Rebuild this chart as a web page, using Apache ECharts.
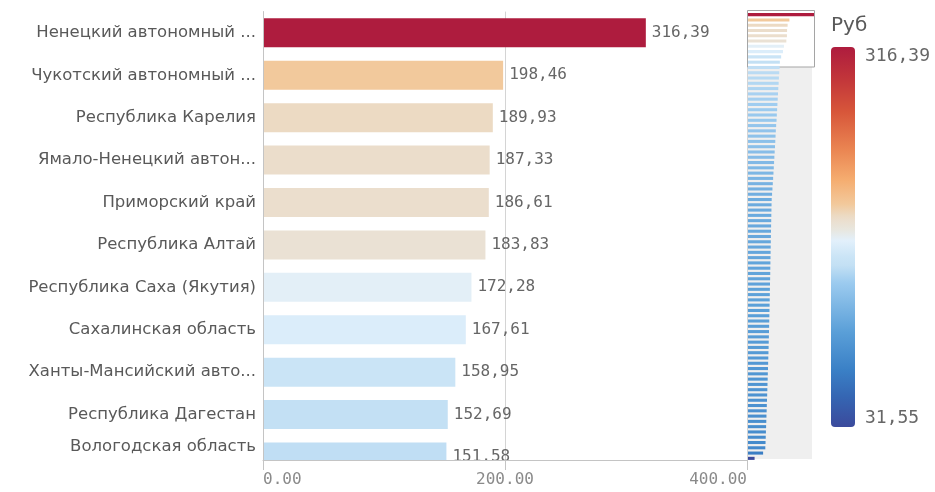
<!DOCTYPE html>
<html><head><meta charset="utf-8">
<script src="https://cdn.jsdelivr.net/npm/echarts@6/dist/echarts.min.js"></script>
<style>html,body{margin:0;padding:0;background:#fff}#c{width:935px;height:492px}</style>
</head><body><div id="c"></div>
<script>
// ---- data ----
const categories = [
  'Ненецкий автономный ...',
  'Чукотский автономный ...',
  'Республика Карелия',
  'Ямало-Ненецкий автон...',
  'Приморский край',
  'Республика Алтай',
  'Республика Саха (Якутия)',
  'Сахалинская область',
  'Ханты-Мансийский авто...',
  'Республика Дагестан',
  'Вологодская область'
];
// all regions, sorted (first 11 labelled above; the rest read from the mini-map)
const values = [
  316.39, 198.46, 189.93, 187.33, 186.61, 183.83, 172.28, 167.61, 158.95, 152.69, 151.58,
  149.8, 148.2, 146.9, 145.3, 143.7, 142.5, 141.1, 139.6, 138.2, 136.9, 135.0, 133.4,
  132.1, 130.8, 129.5, 127.9, 126.4, 125.0, 123.6, 122.1, 120.5, 118.9, 117.2, 115.4, 113.6,
  112.9, 112.4, 111.8, 111.3, 110.7, 110.2, 109.8, 109.3, 108.9, 108.4, 107.9, 107.5, 107.0,
  106.6, 106.1, 105.5, 105.0, 104.6, 104.1, 103.5, 103.0, 102.4, 101.9, 101.3, 100.7, 100.1,
  99.4, 98.8, 98.1, 97.3, 96.6, 95.8, 95.0, 94.3, 93.5, 92.7, 91.9, 91.1,
  90.2, 89.4, 88.5, 87.7, 86.8, 85.9, 85.0, 84.1, 83.0,
  72.4,
  31.55
];
const xTicks = [0, 200, 400];
const legendTitle = 'Руб';
// colour scale stops: [fraction of range, colour]
const colorStops = [
  [0.00, '#3b4a9c'], [0.08, '#3566b3'], [0.15, '#3a80c6'], [0.25, '#5a9fd8'],
  [0.38, '#9ccbef'], [0.425, '#c3e0f4'], [0.447, '#cae4f6'], [0.49, '#e2f0fb'],
  [0.52, '#e8e6de'], [0.545, '#ebdecd'], [0.556, '#ecdac3'], [0.586, '#f2c99c'],
  [0.65, '#f5ad70'], [0.73, '#ea8552'], [0.83, '#d7563a'], [0.92, '#c1343a'], [1.00, '#ae1c3e']
];

// ---- helpers ----
const vMin = Math.min(...values), vMax = Math.max(...values);
function hex2rgb(h){return [1,3,5].map(i=>parseInt(h.substr(i,2),16));}
function colorFor(v){
  const t = (v - vMin) / (vMax - vMin);
  for (let k = 1; k < colorStops.length; k++) {
    if (t <= colorStops[k][0]) {
      const [t0,c0] = colorStops[k-1], [t1,c1] = colorStops[k];
      const f = (t - t0) / (t1 - t0);
      const a = hex2rgb(c0), b = hex2rgb(c1);
      return 'rgb(' + a.map((x,j)=>Math.round(x + (b[j]-x)*f)).join(',') + ')';
    }
  }
  return colorStops[colorStops.length-1][1];
}
const fmt = v => v.toFixed(2).replace('.', ',');

const yMin = -0.5, yMax = 10.07;
const labelPos = categories.map((_, i) => Math.min(i, yMax - 0.31));
const mainData = categories.map((c, i) => [i, values[i]]);
const xMin = xTicks[0], xMax = xTicks[xTicks.length-1], xInt = xTicks[1] - xTicks[0];

const chart = echarts.init(document.getElementById('c'), null, {renderer: 'canvas'});
chart.setOption({
  animation: false,
  grid: [
    {left: 263, top: 11.6, width: 484, height: 448.4},
    {left: 748, top: 12, width: 66, height: 449}
  ],
  xAxis: [
    { // grid lines (behind bars)
      gridIndex: 0, type: 'value', min: xMin, max: xMax, interval: xInt, position: 'bottom',
      axisLine: {show: false}, axisTick: {show: false}, axisLabel: {show: false},
      splitLine: {show: true, lineStyle: {color: '#d4d4d4'}}
    },
    {gridIndex: 1, type: 'value', min: 0, max: vMax, show: false},
    { // axis line, ticks and labels (on top)
      gridIndex: 0, type: 'value', min: xMin, max: xMax, interval: xInt, position: 'bottom', z: 10,
      axisLine: {show: true, onZero: false, lineStyle: {color: '#c4c4c4'}},
      axisTick: {show: true, length: 10, lineStyle: {color: '#c4c4c4'}},
      splitLine: {show: false},
      axisLabel: {
        formatter: v => v.toFixed(2), fontFamily: 'DejaVu Sans Mono', fontSize: 16, color: '#8a8a8a',
        margin: 12, alignMinLabel: 'left', alignMaxLabel: 'right'
      }
    }
  ],
  yAxis: [
    {
      gridIndex: 0, type: 'value', min: yMin, max: yMax, inverse: true,
      axisLine: {show: true, lineStyle: {color: '#c4c4c4'}},
      axisTick: {show: false}, splitLine: {show: false},
      axisLabel: {
        customValues: labelPos,
        formatter: v => categories[Math.round(v)] || '',
        fontFamily: 'DejaVu Sans', fontSize: 16.5, color: '#595959', margin: 7
      }
    },
    {gridIndex: 1, type: 'category', inverse: true, data: values.map((_, i) => i), show: false}
  ],
  graphic: [
    {type: 'rect', z: 1, shape: {x: 748, y: 10, width: 64, height: 449}, style: {fill: '#efefef'}},
    {type: 'rect', z: 1, shape: {x: 747.5, y: 10.5, width: 67, height: 56.5}, style: {fill: '#fff', stroke: '#a5a5a5', lineWidth: 1}},
    {type: 'rect', z: 5, shape: {x: 263.5, y: 460.5, width: 483, height: 14}, style: {fill: '#fff'}},
    {type: 'rect', z: 5, shape: {x: 831, y: 47, width: 24, height: 380, r: 4},
      style: {fill: new echarts.graphic.LinearGradient(0, 0, 0, 1,
        colorStops.slice().reverse().map(s => ({offset: 1 - s[0], color: s[1]})))}},
    {type: 'text', z: 5, x: 831, y: 26, style: {text: legendTitle, font: '20px "DejaVu Sans"', fill: '#595959', verticalAlign: 'middle'}},
    {type: 'text', z: 5, x: 865, y: 56, style: {text: fmt(vMax), font: '18px "DejaVu Sans Mono"', fill: '#666', verticalAlign: 'middle'}},
    {type: 'text', z: 5, x: 865, y: 418, style: {text: fmt(vMin), font: '18px "DejaVu Sans Mono"', fill: '#666', verticalAlign: 'middle'}}
  ],
  series: [
    {
      type: 'custom', xAxisIndex: 0, yAxisIndex: 0, clip: true,
      encode: {x: 1, y: 0},
      data: mainData,
      renderItem: function (params, api) {
        const i = api.value(0), v = api.value(1);
        const s = api.coord([0, i]), e = api.coord([v, i]);
        const h = api.size([0, 1])[1] * 0.683;
        return {type: 'group', children: [
          {type: 'rect', shape: {x: s[0] + 1, y: s[1] - h / 2, width: e[0] - s[0] - 1, height: h}, style: {fill: colorFor(v)}},
          {type: 'text', x: e[0] + 6, y: e[1], style: {text: fmt(v), font: '16px "DejaVu Sans Mono"', fill: '#666', verticalAlign: 'middle', align: 'left'}}
        ]};
      }
    },
    {
      type: 'bar', xAxisIndex: 1, yAxisIndex: 1, barWidth: '58%', z: 3,
      data: values.map(v => ({value: v, itemStyle: {color: colorFor(v)}}))
    }
  ]
});
</script></body></html>
